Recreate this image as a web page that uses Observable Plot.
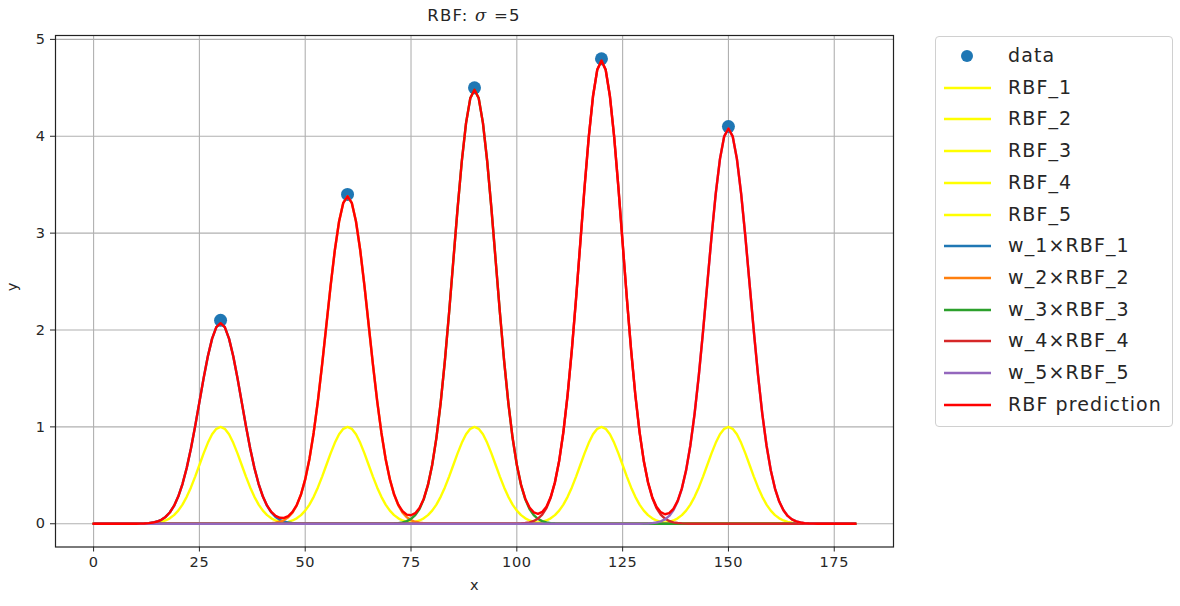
<!DOCTYPE html>
<html>
<head>
<meta charset="utf-8">
<script src="https://cdn.jsdelivr.net/npm/d3@7"></script>
<script src="https://cdn.jsdelivr.net/npm/@observablehq/plot@0.6"></script>
<style>
  html, body { margin:0; padding:0; background:#fff; }
  #wrap { position:relative; width:1180px; height:606px; font-family:"DejaVu Sans",sans-serif; }
  #legend { position:absolute; left:935px; top:36px; width:236px; height:389px; border:1px solid #d0d0d0; border-radius:4px; background:rgba(255,255,255,0.8); }
  .row { position:absolute; left:0; height:30px; width:236px; }
  .row svg { position:absolute; left:0; top:0; }
  .row span { position:absolute; left:72px; top:-1px; line-height:30px; font-size:19px; letter-spacing:1.1px; color:#262626; white-space:nowrap; }
</style>
</head>
<body>
<div id="wrap"></div>
<script>
// ---- data ----
const centers = [30, 60, 90, 120, 150];
const dataY = [2.1, 3.4, 4.5, 4.8, 4.1];
const weights = [2.07, 3.38, 4.48, 4.78, 4.08];
const sigma = 5;
const xStart = 0, xEnd = 180, xStep = 1;
const xTicks = [0, 25, 50, 75, 100, 125, 150, 175];
const yTicks = [0, 1, 2, 3, 4, 5];
const wColors = ["#1f77b4", "#ff7f0e", "#2ca02c", "#d62728", "#9467bd"];
const rbfLabels = ["RBF_1", "RBF_2", "RBF_3", "RBF_4", "RBF_5"];
const wLabels = ["w_1×RBF_1", "w_2×RBF_2", "w_3×RBF_3", "w_4×RBF_4", "w_5×RBF_5"];

// ---- derived tables ----
const xs = d3.range(xStart, xEnd + xStep / 2, xStep);
const rbf = (x, c) => Math.exp(-((x - c) ** 2) / (2 * sigma * sigma));
const points = centers.map((c, i) => ({x: c, y: dataY[i]}));
const rbfSeries = centers.map(c => xs.map(x => ({x, y: rbf(x, c)})));
const wSeries = centers.map((c, i) => xs.map(x => ({x, y: weights[i] * rbf(x, c)})));
const pred = xs.map(x => ({x, y: d3.sum(centers, (c, i) => weights[i] * rbf(x, c))}));

const font = "DejaVu Sans, sans-serif";
const lw = 2.4;

const marks = [
  Plot.ruleX(xTicks, {stroke: "#b0b0b0", strokeWidth: 1.1}),
  Plot.ruleY(yTicks, {stroke: "#b0b0b0", strokeWidth: 1.1}),
  Plot.dot(points, {x: "x", y: "y", r: 6.5, fill: "#1f77b4", stroke: "none"})
];
rbfSeries.forEach(s => marks.push(Plot.line(s, {x: "x", y: "y", stroke: "#ffff00", strokeWidth: lw})));
wSeries.forEach((s, i) => marks.push(Plot.line(s, {x: "x", y: "y", stroke: wColors[i], strokeWidth: lw})));
marks.push(Plot.line(pred, {x: "x", y: "y", stroke: "#ff0000", strokeWidth: lw}));
marks.push(
  Plot.frame({stroke: "#222", strokeWidth: 1.2}),
  Plot.axisX({ticks: xTicks, tickSize: 5, tickPadding: 5, label: null, fontSize: 14.5}),
  Plot.axisY({ticks: yTicks, tickSize: 5, tickPadding: 5, label: null, fontSize: 14.5, tickFormat: d3.format("d")}),
  Plot.text(["x"], {frameAnchor: "bottom", dy: 43, fontSize: 14.5}),
  Plot.text(["y"], {frameAnchor: "left", dx: -43, rotate: -90, fontSize: 14.5})
);

const chart = Plot.plot({
  width: 1180, height: 606,
  marginLeft: 55, marginRight: 287, marginTop: 35, marginBottom: 59.5,
  x: {domain: [-9, 189]},
  y: {domain: [-0.24, 5.04]},
  style: {fontFamily: font, fontSize: "14.5px", color: "#262626", background: "#fff", overflow: "visible", letterSpacing: "0.6px"},
  marks
});

const svg = d3.select(chart);
const t = svg.append("text")
  .attr("x", 474).attr("y", 16)
  .attr("text-anchor", "middle").attr("dominant-baseline", "middle")
  .attr("font-size", 16.5).attr("font-family", font).attr("fill", "#262626")
  .attr("letter-spacing", "1.2px");
t.append("tspan").text("RBF: ");
t.append("tspan").attr("font-style", "italic").attr("font-family", "DejaVu Serif, serif").text("σ");
t.append("tspan").text(" =5");

document.getElementById("wrap").appendChild(chart);

// ---- legend ----
const legend = document.createElement("div");
legend.id = "legend";
const entries = [{label: "data", dot: "#1f77b4"}]
  .concat(rbfLabels.map(l => ({label: l, line: "#ffff00"})))
  .concat(wLabels.map((l, i) => ({label: l, line: wColors[i]})))
  .concat([{label: "RBF prediction", line: "#ff0000"}]);
entries.forEach((e, i) => {
  const row = document.createElement("div");
  row.className = "row";
  row.style.top = (19 - 15 + i * 31.7) + "px";
  const s = d3.create("svg").attr("width", 64).attr("height", 30);
  if (e.dot) s.append("circle").attr("cx", 31).attr("cy", 15).attr("r", 6).attr("fill", e.dot);
  else s.append("line").attr("x1", 8).attr("x2", 55).attr("y1", 15).attr("y2", 15).attr("stroke", e.line).attr("stroke-width", lw);
  row.appendChild(s.node());
  const sp = document.createElement("span");
  sp.textContent = e.label;
  row.appendChild(sp);
  legend.appendChild(row);
});
document.getElementById("wrap").appendChild(legend);
</script>
</body>
</html>
